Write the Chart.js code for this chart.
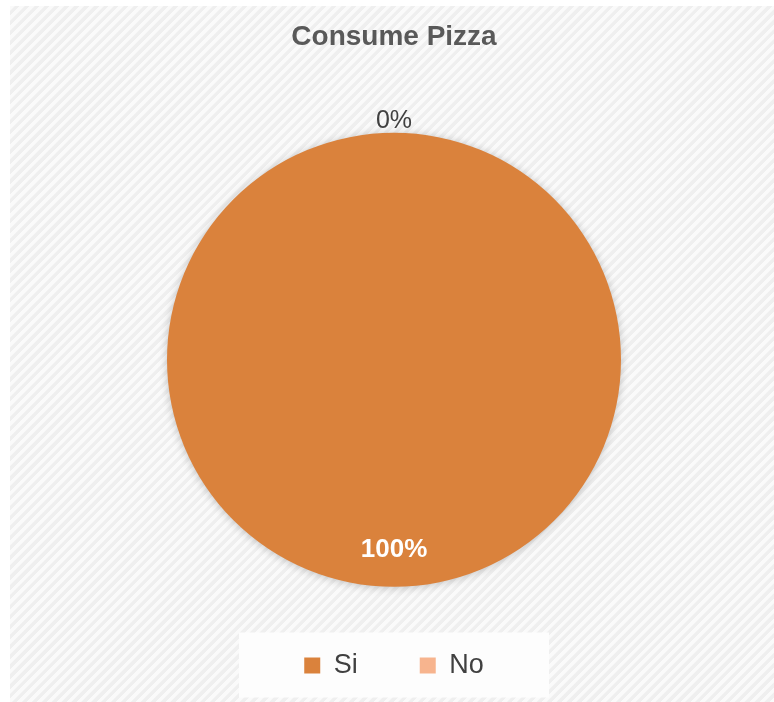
<!DOCTYPE html>
<html>
<head>
<meta charset="utf-8">
<script src="https://cdn.jsdelivr.net/npm/chart.js@4.4.1/dist/chart.umd.min.js"></script>
<style>
  html, body { margin: 0; padding: 0; background: #ffffff; }
  #wrap {
    position: absolute; left: 10px; top: 6px; width: 764px; height: 696px;
    background-color: #efefef;
    background-image:
      repeating-linear-gradient(135deg, rgba(255,255,255,0.7) 0px, rgba(255,255,255,0.7) 3px, rgba(255,255,255,0) 4px, rgba(255,255,255,0) 7px);
  }
  canvas { display: block; }
</style>
</head>
<body>
<div id="wrap"><canvas id="c" width="764" height="696"></canvas></div>
<script>
const chartTitle = 'Consume Pizza';
const categories = ['Si', 'No'];
const values = [100, 0];
const sliceColors = ['#DA823C', '#F7B48E'];

const FONT = '"Liberation Sans", Arial, sans-serif';

const legendBoxPlugin = {
  id: 'legendBox',
  beforeDraw(chart) {
    const lg = chart.legend;
    if (!lg || !lg.legendHitBoxes || !lg.legendHitBoxes.length) return;
    const hb = lg.legendHitBoxes;
    const first = hb[0], last = hb[hb.length - 1];
    const cx = (first.left + last.left + last.width) / 2;
    const cy = first.top + first.height / 2;
    const ctx = chart.ctx;
    ctx.save();
    ctx.fillStyle = '#fdfdfd';
    ctx.fillRect(cx - 155, cy - 33, 310, 65);
    ctx.restore();
  }
};

const shadowPlugin = {
  id: 'pieShadow',
  beforeDatasetDraw(chart) {
    const ctx = chart.ctx;
    ctx.save();
    ctx.shadowColor = 'rgba(0,0,0,0.22)';
    ctx.shadowBlur = 9;
    ctx.shadowOffsetX = 0;
    ctx.shadowOffsetY = 1;
  },
  afterDatasetDraw(chart) {
    chart.ctx.restore();
  }
};

const labelPlugin = {
  id: 'sliceLabels',
  afterDatasetsDraw(chart) {
    const ctx = chart.ctx;
    const meta = chart.getDatasetMeta(0);
    const data = chart.data.datasets[0].data;
    const total = data.reduce((a, b) => a + b, 0);
    meta.data.forEach((arc, i) => {
      const p = arc.getProps(['x', 'y', 'startAngle', 'endAngle', 'outerRadius'], true);
      const mid = (p.startAngle + p.endAngle) / 2;
      const pct = Math.round(data[i] / total * 100) + '%';
      ctx.save();
      ctx.textAlign = 'center';
      ctx.textBaseline = 'middle';
      let r;
      if (data[i] > 0) {
        r = p.outerRadius * 0.837;
        ctx.fillStyle = '#ffffff';
        ctx.font = 'bold 26px ' + FONT;
      } else {
        r = p.outerRadius + 12;
        ctx.fillStyle = '#404040';
        ctx.font = '25px ' + FONT;
      }
      ctx.fillText(pct, p.x + Math.cos(mid) * r, p.y + Math.sin(mid) * r);
      ctx.restore();
    });
  }
};

new Chart(document.getElementById('c'), {
  type: 'pie',
  data: {
    labels: categories,
    datasets: [{
      data: values,
      backgroundColor: sliceColors,
      borderWidth: 0
    }]
  },
  options: {
    responsive: false,
    animation: false,
    radius: 227,
    layout: { padding: { top: 0, bottom: 13, left: 4, right: 0 } },
    plugins: {
      title: {
        display: true,
        text: chartTitle,
        color: '#595959',
        font: { family: FONT, size: 28, weight: 'bold' },
        padding: { top: 14, bottom: 76 }
      },
      legend: {
        display: true,
        position: 'bottom',
        labels: {
          color: '#404040',
          font: { family: FONT, size: 27 },
          boxWidth: 16,
          boxHeight: 16,
          padding: 62
        }
      },
      tooltip: { enabled: false }
    }
  },
  plugins: [legendBoxPlugin, shadowPlugin, labelPlugin]
});
</script>
</body>
</html>
